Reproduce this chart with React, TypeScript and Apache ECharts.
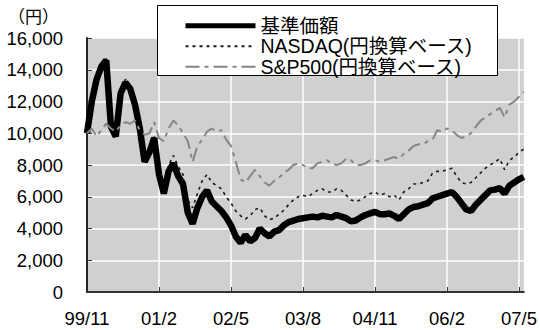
import React, { useEffect, useRef } from "react";
import * as echarts from "echarts";

const START_YEAR = 1999;
const START_MONTH = 11;
const MONTH_COUNT = 92;

const fundValues = [
  10000, 12000, 13400, 14200, 14600, 10400, 9800, 12500, 13200, 12800,
  11800, 10300, 8200, 8800, 9700, 7400, 6200, 7600, 8100, 7300,
  6800, 5000, 4300, 5300, 6000, 6400, 5700, 5400, 5100, 4700,
  4200, 3500, 3100, 3600, 3200, 3400, 4000, 3700, 3500, 3800,
  3900, 4200, 4400, 4500, 4600, 4650, 4700, 4750, 4700, 4800,
  4750, 4700, 4850, 4750, 4650, 4450, 4500, 4700, 4850, 4950,
  5050, 4900, 4900, 4950, 4800, 4600, 4900, 5200, 5350, 5400,
  5500, 5600, 5900, 6000, 6100, 6200, 6300, 6000, 5600, 5200,
  5100, 5500, 5800, 6100, 6400, 6450, 6550, 6200, 6700, 6900,
  7100, 7250,
];

const nasdaqValues = [
  10000, 12100, 13500, 14300, 14700, 10600, 9900, 12700, 13400, 13000,
  12000, 10500, 8400, 9000, 9900, 7700, 6600, 8000, 8600, 7900,
  7400, 5800, 5300, 6200, 7000, 7400, 6900, 6700, 6500, 6000,
  5600, 5100, 4800, 4600, 4800, 5200, 5300, 4800, 4550, 4650,
  4900, 5150, 5500, 5800, 6000, 6100, 6000, 6200, 6400, 6500,
  6300, 6300, 6500, 6400, 6100, 5800, 5700, 5800, 6000, 6200,
  6300, 6100, 6200, 6000, 6100, 5800, 6300, 6500, 6800, 6800,
  6900, 7000, 7500, 7600, 7600, 7700, 7800, 7300, 6900, 6800,
  6900, 7200, 7500, 7800, 8000, 8200, 8400, 7700, 8300, 8500,
  8800, 9000,
];

const sp500Values = [
  10000, 10300, 9800, 10200, 10600, 10300, 10100, 10500, 10700, 10600,
  10800, 10200, 9900, 10000, 10700, 9700, 9500, 10300, 10800, 10500,
  10000, 9500, 8200, 9200, 9600, 10100, 10300, 10100, 10200, 9600,
  9200, 8200, 7100, 6900, 7300, 7700, 7300, 6900, 6700, 7000,
  7200, 7500, 7700, 8000, 8100, 8000, 7800, 7800, 8100, 8200,
  8300, 8100, 8000, 8100, 8400, 8300, 8000, 8000, 8100, 8300,
  8300, 8200, 8300, 8400, 8500, 8400, 8700, 8900, 9200, 9300,
  9300, 9500, 9600, 10200, 10100, 10300, 10200, 9900, 9700, 9800,
  10000, 10400, 10800, 11000, 11200, 11400, 11600, 11000, 11800, 12000,
  12300, 12600,
];

const seriesNames = ["基準価額", "NASDAQ(円換算ベース)", "S&P500(円換算ベース)"];

const monthLabels: string[] = [];
for (let i = 0; i < MONTH_COUNT; i++) {
  const m0 = START_MONTH - 1 + i;
  const y = START_YEAR + Math.floor(m0 / 12);
  const m = (m0 % 12) + 1;
  monthLabels.push(String(y % 100).padStart(2, "0") + "/" + m);
}

const FONT = "'Liberation Sans', Arial, 'Noto Sans CJK JP', sans-serif";

export default function App() {
  const ref = useRef<HTMLDivElement>(null);
  useEffect(() => {
    if (!ref.current) return;
    const chart = echarts.init(ref.current, undefined, { renderer: "svg" });
    chart.setOption({
      animation: false,
      backgroundColor: "#ffffff",
      textStyle: { fontFamily: FONT },
      grid: {
        left: 87,
        right: 14,
        top: 38,
        bottom: 38,
        show: true,
        backgroundColor: "#d0d0d0",
        borderWidth: 0,
      },
      xAxis: {
        type: "category",
        data: monthLabels,
        boundaryGap: false,
        axisLine: { show: true, lineStyle: { color: "#333", width: 2 } },
        axisTick: {
          show: true,
          inside: true,
          length: 5,
          interval: 14,
          lineStyle: { color: "#333", width: 1 },
        },
        axisLabel: {
          interval: 14,
          color: "#000",
          fontSize: 18.5,
          fontFamily: FONT,
          margin: 17,
        },
        splitLine: {
          show: true,
          interval: 14,
          lineStyle: { color: "#ffffff", width: 1.5 },
        },
      },
      yAxis: {
        type: "value",
        min: 0,
        max: 16000,
        interval: 2000,
        axisLine: { show: true, lineStyle: { color: "#222", width: 2 } },
        axisTick: {
          show: true,
          inside: true,
          length: 5,
          lineStyle: { color: "#333", width: 1 },
        },
        axisLabel: {
          color: "#000",
          fontSize: 18.5,
          fontFamily: FONT,
          margin: 24,
          formatter: (v: number) => v.toLocaleString("en-US"),
        },
        splitLine: { show: true, lineStyle: { color: "#ffffff", width: 1.5 } },
      },
      legend: {
        data: [
          { name: seriesNames[0], lineStyle: { width: 5 } },
          { name: seriesNames[1] },
          { name: seriesNames[2] },
        ],
        orient: "vertical",
        left: 183,
        top: 16,
        itemWidth: 70,
        itemHeight: 14,
        itemGap: 1,
        padding: 0,
        z: 20,
        itemStyle: { opacity: 0 },
        textStyle: { color: "#000", fontSize: 19.5, fontFamily: FONT, lineHeight: 19 },
      },
      graphic: [
        {
          type: "rect",
          z: 15,
          shape: { x: 157.5, y: 5.5, width: 340, height: 70 },
          style: { fill: "#ffffff", stroke: "#000", lineWidth: 1 },
        },
        {
          type: "text",
          left: 8,
          top: 9,
          style: { text: "（円）", fontSize: 17, fill: "#000", fontFamily: FONT },
        },
      ],
      series: [
        {
          name: seriesNames[1],
          type: "line",
          data: nasdaqValues,
          symbol: "none",
          z: 2,
          lineStyle: { color: "#1a1a1a", width: 1.6, type: [3, 4] },
          itemStyle: { color: "#1a1a1a" },
        },
        {
          name: seriesNames[0],
          type: "line",
          data: fundValues,
          symbol: "none",
          z: 3,
          lineStyle: { color: "#000", width: 6.5 },
          itemStyle: { color: "#000" },
        },
        {
          name: seriesNames[2],
          type: "line",
          data: sp500Values,
          symbol: "none",
          z: 4,
          lineStyle: { color: "#858585", width: 2, type: [14, 5, 4, 5] },
          itemStyle: { color: "#858585" },
        },
      ],
    });
    return () => chart.dispose();
  }, []);
  return (
    <div
      ref={ref}
      style={{ position: "fixed", left: 0, top: 0, width: 540, height: 330 }}
    />
  );
}
